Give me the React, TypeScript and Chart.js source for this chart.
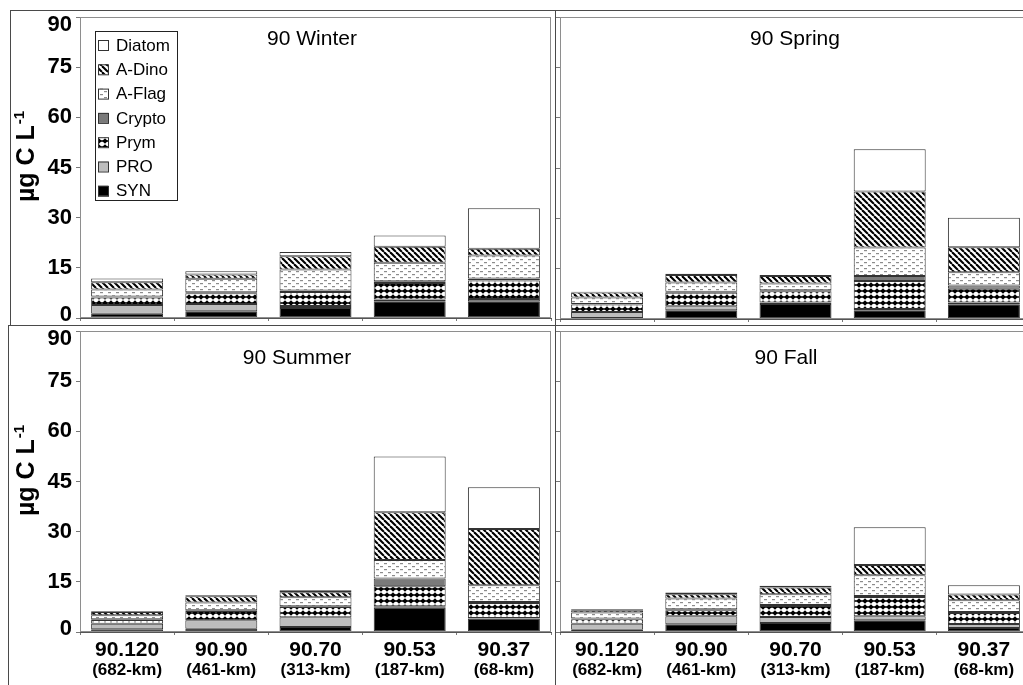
import React, { useEffect, useRef } from 'react';
import { Chart, registerables } from 'chart.js';

Chart.register(...registerables);

const FONT = '"Liberation Sans", Arial, sans-serif';

const stations = ['90.120', '90.90', '90.70', '90.53', '90.37'];
const distances = ['(682-km)', '(461-km)', '(313-km)', '(187-km)', '(68-km)'];
const groups = ['SYN', 'PRO', 'Prym', 'Crypto', 'A-Flag', 'A-Dino', 'Diatom'];
const yMin = 0;
const yMax = 90;
const yStep = 15;
const axisTitleMain = 'µg C L';
const axisTitleSup = '-1';

// 90 Winter (µg C per L), stacked bottom to top
const winterSYN = [1.3, 2.0, 3.0, 5.0, 5.0];
const winterPRO = [2.6, 2.2, 0.6, 0.5, 0.7];
const winterPrym = [2.2, 3.2, 4.2, 5.0, 5.5];
const winterCrypto = [0.3, 0.3, 0.4, 0.5, 0.6];
const winterAFlag = [2.1, 4.0, 6.3, 5.5, 6.9];
const winterADino = [2.2, 1.3, 4.0, 4.8, 2.0];
const winterDiatom = [1.1, 1.0, 1.2, 3.4, 12.1];

// 90 Spring
const springSYN = [0.3, 2.6, 4.5, 2.6, 4.4];
const springPRO = [1.8, 1.2, 0.4, 0.4, 0.5];
const springPrym = [2.2, 4.0, 3.4, 8.3, 4.1];
const springCrypto = [0.2, 0.3, 0.3, 1.5, 1.0];
const springAFlag = [1.9, 2.8, 2.0, 8.5, 3.9];
const springADino = [1.5, 2.2, 2.2, 16.7, 7.5];
const springDiatom = [0.2, 0.4, 0.3, 12.6, 8.8];

// 90 Summer
const summerSYN = [0.8, 1.0, 1.5, 7.25, 4.0];
const summerPRO = [1.7, 2.5, 2.9, 0.45, 0.2];
const summerPrym = [1.1, 2.8, 3.1, 6.0, 4.5];
const summerCrypto = [0.2, 0.2, 0.2, 2.3, 0.3];
const summerAFlag = [1.2, 2.3, 2.7, 5.5, 5.0];
const summerADino = [1.0, 1.9, 1.5, 14.3, 16.8];
const summerDiatom = [0.2, 0.3, 0.6, 16.7, 12.5];

// 90 Fall
const fallSYN = [0.7, 2.3, 2.7, 3.5, 1.2];
const fallPRO = [1.8, 2.4, 1.8, 1.2, 1.2];
const fallPrym = [1.3, 1.8, 3.3, 5.8, 3.3];
const fallCrypto = [0.2, 0.3, 0.3, 0.3, 0.3];
const fallAFlag = [1.8, 3.2, 3.2, 6.2, 3.5];
const fallADino = [0.7, 1.3, 2.0, 3.0, 1.7];
const fallDiatom = [0.3, 0.5, 0.5, 11.3, 2.8];

const winter = [winterSYN, winterPRO, winterPrym, winterCrypto, winterAFlag, winterADino, winterDiatom];
const spring = [springSYN, springPRO, springPrym, springCrypto, springAFlag, springADino, springDiatom];
const summer = [summerSYN, summerPRO, summerPrym, summerCrypto, summerAFlag, summerADino, summerDiatom];
const fall = [fallSYN, fallPRO, fallPrym, fallCrypto, fallAFlag, fallADino, fallDiatom];

type PanelCfg = {
  title: string;
  series: number[][];
  x: number; y: number; w: number; h: number;
  padTop: number; padRight: number;
  yWidth: number; xHeight: number; x2Height: number;
  yLabels: boolean; xLabels: boolean; legend: boolean;
  titleDx: number; titleDy: number;
};

const panels: PanelCfg[] = [
  { title: '90 Winter', series: winter, x: 0, y: 0, w: 556, h: 330, padTop: 17, padRight: 5, yWidth: 80, xHeight: 12, x2Height: 0, yLabels: true, xLabels: false, legend: true, titleDx: 232, titleDy: 28 },
  { title: '90 Spring', series: spring, x: 556, y: 0, w: 490, h: 330, padTop: 17, padRight: 15, yWidth: 4, xHeight: 11, x2Height: 0, yLabels: false, xLabels: false, legend: false, titleDx: 235, titleDy: 28 },
  { title: '90 Summer', series: summer, x: 0, y: 310, w: 556, h: 375, padTop: 21, padRight: 5, yWidth: 80, xHeight: 28, x2Height: 25, yLabels: true, xLabels: true, legend: false, titleDx: 217, titleDy: 33 },
  { title: '90 Fall', series: fall, x: 556, y: 310, w: 490, h: 375, padTop: 21, padRight: 15, yWidth: 4, xHeight: 28, x2Height: 25, yLabels: false, xLabels: true, legend: false, titleDx: 226, titleDy: 33 },
];

const frames = [
  { left: 10, top: 10, width: 546, height: 316 },
  { left: 555, top: 10, width: 500, height: 316 },
  { left: 8, top: 325, width: 548, height: 400 },
  { left: 555, top: 325, width: 500, height: 400 },
];

function makeTile(w: number, h: number, draw: (c: CanvasRenderingContext2D) => void) {
  const cv = document.createElement('canvas');
  cv.width = w;
  cv.height = h;
  const c = cv.getContext('2d')!;
  c.fillStyle = '#fff';
  c.fillRect(0, 0, w, h);
  draw(c);
  return cv;
}

function makeFills(ctx: CanvasRenderingContext2D): Record<string, any> {
  const dino = makeTile(6, 6, (c) => {
    c.strokeStyle = '#000';
    c.lineWidth = 2.1;
    for (const k of [-6, 0, 6]) {
      c.beginPath();
      c.moveTo(k, 0);
      c.lineTo(k + 6, 6);
      c.stroke();
    }
  });
  const flag = makeTile(8, 6, (c) => {
    c.fillStyle = '#8c8c8c';
    c.fillRect(0, 1, 3, 1.2);
    c.fillRect(4, 4, 3, 1.2);
  });
  const prym = makeTile(6, 6, (c) => {
    c.fillStyle = '#000';
    c.beginPath();
    c.moveTo(3, 0.2);
    c.lineTo(5.8, 3);
    c.lineTo(3, 5.8);
    c.lineTo(0.2, 3);
    c.closePath();
    c.fill();
    c.fillRect(0, 2.3, 6, 1.4);
  });
  return {
    SYN: '#000000',
    PRO: '#bdbdbd',
    Prym: ctx.createPattern(prym, 'repeat'),
    Crypto: '#7a7a7a',
    'A-Flag': ctx.createPattern(flag, 'repeat'),
    'A-Dino': ctx.createPattern(dino, 'repeat'),
    Diatom: '#ffffff',
  };
}

const decorPlugin = {
  id: 'decor',
  afterDraw(chart: any, _args: any, opts: any) {
    const { ctx, chartArea: a } = chart;
    ctx.save();
    // plot frame
    ctx.strokeStyle = '#8e8e8e';
    ctx.lineWidth = 1;
    ctx.strokeRect(a.left + 0.5, a.top + 0.5, a.right - a.left - 1, a.bottom - a.top - 1);
    ctx.strokeStyle = '#555';
    ctx.beginPath();
    ctx.moveTo(a.left, a.bottom + 0.5);
    ctx.lineTo(a.right, a.bottom + 0.5);
    ctx.stroke();
    // panel title
    ctx.fillStyle = '#000';
    ctx.font = `21px ${FONT}`;
    ctx.textAlign = 'center';
    ctx.textBaseline = 'alphabetic';
    ctx.fillText(opts.title, a.left + opts.titleDx, a.top + opts.titleDy);
    // y axis title
    if (opts.axisTitle) {
      const mainFont = `bold 25px ${FONT}`;
      const supFont = `bold 15px ${FONT}`;
      ctx.font = mainFont;
      const mw = ctx.measureText(axisTitleMain).width;
      ctx.font = supFont;
      const sw = ctx.measureText(axisTitleSup).width;
      const total = mw + sw + 1;
      ctx.translate(a.left - 46, (a.top + a.bottom) / 2 - 11);
      ctx.rotate(-Math.PI / 2);
      ctx.textAlign = 'left';
      ctx.font = mainFont;
      ctx.fillText(axisTitleMain, -total / 2, 0);
      ctx.font = supFont;
      ctx.fillText(axisTitleSup, -total / 2 + mw + 1, -10);
      ctx.setTransform(1, 0, 0, 1, 0, 0);
    }
    // legend
    if (opts.legend) {
      const bx = a.left + 15;
      const by = a.top + 14;
      const bw = 82;
      const bh = 169;
      ctx.fillStyle = '#fff';
      ctx.fillRect(bx, by, bw, bh);
      ctx.strokeStyle = '#222';
      ctx.lineWidth = 1;
      ctx.strokeRect(bx + 0.5, by + 0.5, bw, bh);
      const ds = chart.data.datasets.slice().reverse();
      ds.forEach((d: any, i: number) => {
        const cy = by + 14 + i * 24.3;
        ctx.fillStyle = d.backgroundColor;
        ctx.fillRect(bx + 3, cy - 5, 10, 10);
        ctx.strokeStyle = '#333';
        ctx.strokeRect(bx + 3.5, cy - 4.5, 10, 10);
        ctx.fillStyle = '#000';
        ctx.font = `17px ${FONT}`;
        ctx.textAlign = 'left';
        ctx.textBaseline = 'middle';
        ctx.fillText(d.label, bx + 21, cy + 1);
      });
    }
    ctx.restore();
  },
};

function Panel({ cfg }: { cfg: PanelCfg }) {
  const ref = useRef<HTMLCanvasElement>(null);
  useEffect(() => {
    const canvas = ref.current!;
    const ctx = canvas.getContext('2d')!;
    const fills = makeFills(ctx);
    const datasets = groups.map((g, i) => ({
      label: g,
      data: cfg.series[i],
      backgroundColor: fills[g],
      borderColor: '#333',
      borderWidth: 1,
      borderSkipped: false as any,
      barPercentage: 0.764,
      categoryPercentage: 1,
      stack: 's',
    }));
    const scales: any = {
      x: {
        stacked: true,
        offset: true,
        grid: { display: true, drawOnChartArea: false, offset: true, tickLength: 3, color: '#777' },
        border: { display: true, color: '#555' },
        ticks: {
          display: cfg.xLabels,
          font: { family: FONT, size: 21, weight: 'bold' },
          color: '#000',
          padding: 3,
          maxRotation: 0,
          autoSkip: false,
        },
        afterFit: (s: any) => { s.height = cfg.xHeight; s.paddingLeft = 0; s.paddingRight = 0; },
      },
      y: {
        stacked: true,
        min: yMin,
        max: yMax,
        grid: { drawOnChartArea: false, tickLength: 4, color: '#777' },
        border: { display: true, color: '#888' },
        ticks: {
          display: cfg.yLabels,
          stepSize: yStep,
          font: (c: any) => {
            const v = c.tick ? c.tick.value : null;
            const lh = v === yMax ? 16 / 22 : v === yMin ? 6 / 22 : 1.2;
            return { family: FONT, size: 22, weight: 'bold', lineHeight: lh };
          },
          callback: (v: any) => (v === yMax ? ['', String(v)] : v === yMin ? [String(v), ''] : String(v)),
          color: '#000',
          padding: 4,
        },
        afterFit: (s: any) => { s.width = cfg.yWidth; s.paddingTop = 0; s.paddingBottom = 0; },
      },
    };
    if (cfg.xLabels) {
      scales.x2 = {
        type: 'category',
        labels: distances,
        position: 'bottom',
        offset: true,
        weight: 1,
        grid: { display: false, drawTicks: false },
        border: { display: false },
        ticks: {
          font: { family: FONT, size: 17, weight: 'bold' },
          color: '#000',
          padding: 0,
          maxRotation: 0,
          autoSkip: false,
        },
        afterFit: (s: any) => { s.height = cfg.x2Height; s.paddingLeft = 0; s.paddingRight = 0; },
      };
    }
    const chart = new Chart(canvas, {
      type: 'bar',
      data: { labels: stations, datasets },
      options: {
        animation: false,
        responsive: false,
        maintainAspectRatio: false,
        devicePixelRatio: 1,
        layout: { padding: { left: 0, top: cfg.padTop, right: cfg.padRight, bottom: 0 } },
        scales,
        plugins: {
          legend: { display: false },
          tooltip: { enabled: false },
          decor: {
            title: cfg.title,
            titleDx: cfg.titleDx,
            titleDy: cfg.titleDy,
            axisTitle: cfg.yLabels,
            legend: cfg.legend,
          },
        } as any,
      },
      plugins: [decorPlugin],
    });
    return () => chart.destroy();
  }, [cfg]);
  return (
    <canvas
      ref={ref}
      width={cfg.w}
      height={cfg.h}
      style={{ position: 'absolute', left: cfg.x, top: cfg.y, width: cfg.w, height: cfg.h }}
    />
  );
}

export default function App() {
  return (
    <div
      style={{
        position: 'fixed',
        left: 0,
        top: 0,
        width: 1023,
        height: 685,
        overflow: 'hidden',
        background: '#fff',
      }}
    >
      {panels.map((p) => (
        <Panel key={p.title} cfg={p} />
      ))}
      {frames.map((f, i) => (
        <div
          key={i}
          style={{
            position: 'absolute',
            left: f.left,
            top: f.top,
            width: f.width,
            height: f.height,
            boxSizing: 'border-box',
            border: '1px solid #4a4a4a',
            pointerEvents: 'none',
          }}
        />
      ))}
    </div>
  );
}
